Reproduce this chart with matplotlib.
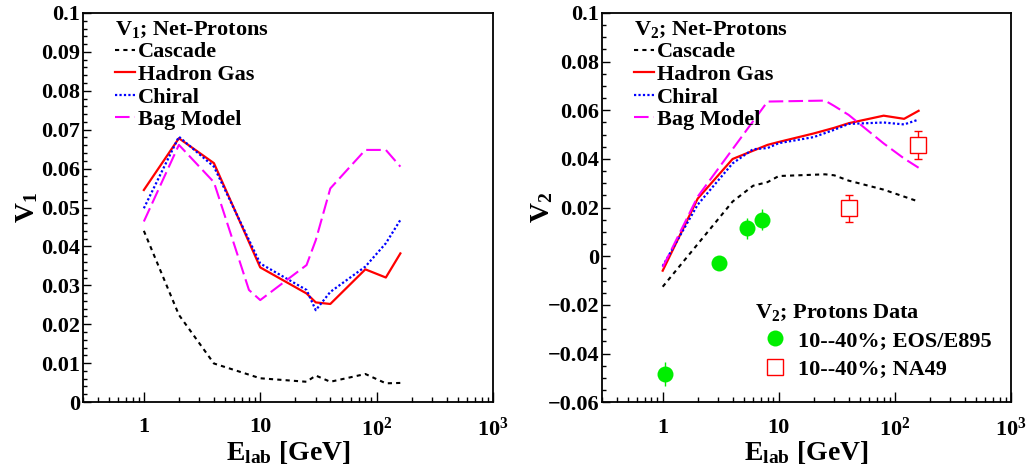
import matplotlib
matplotlib.use('Agg')
import matplotlib.pyplot as plt
from matplotlib.ticker import FixedLocator, MultipleLocator, FuncFormatter, LogLocator, NullFormatter
from matplotlib.lines import Line2D

plt.rcParams.update({
    'font.family': 'Liberation Serif',
    'font.weight': 'bold',
    'axes.labelweight': 'bold',
    'mathtext.fontset': 'custom',
    'mathtext.rm': 'Liberation Serif:bold',
    'mathtext.it': 'Liberation Serif:bold:italic',
    'mathtext.bf': 'Liberation Serif:bold',
    'mathtext.default': 'rm',
    'axes.unicode_minus': True,
})

# ---------------- data: V1 (left panel) ----------------
E_v1_casc = [1, 2, 4, 10, 25, 30, 40, 80, 120, 160]
v1_casc = [0.0440, 0.0224, 0.0099, 0.0061, 0.0052, 0.0068, 0.0052, 0.0072, 0.0048, 0.0049]
E_v1_hg = [1, 2, 4, 10, 25, 30, 40, 80, 120, 160]
v1_hg = [0.0545, 0.0678, 0.0614, 0.0346, 0.0279, 0.0256, 0.0252, 0.0341, 0.0320, 0.0382]
E_v1_chiral = [1, 2, 4, 10, 25, 30, 40, 80, 120, 160]
v1_chiral = [0.0498, 0.0682, 0.0605, 0.0356, 0.0288, 0.0236, 0.0283, 0.0348, 0.0408, 0.0468]
E_v1_bag = [1, 2, 4, 8, 10, 25, 30, 40, 80, 120, 160]
v1_bag = [0.0464, 0.0661, 0.0565, 0.0288, 0.0262, 0.0352, 0.0416, 0.0549, 0.0648, 0.0648, 0.0605]

# ---------------- data: V2 (right panel) ----------------
E_v2_casc = [1, 2, 4, 6, 8, 10, 25, 30, 40, 80, 160]
v2_casc = [-0.0125, 0.0050, 0.0225, 0.0290, 0.0305, 0.0330, 0.0337, 0.0333, 0.0311, 0.0274, 0.0225]
E_v2_hg = [1, 2, 4, 8, 10, 20, 30, 40, 80, 120, 160]
v2_hg = [-0.0059, 0.0237, 0.0400, 0.0458, 0.0470, 0.0505, 0.0528, 0.0547, 0.0578, 0.0565, 0.0598]
E_v2_chiral = [1, 2, 4, 6, 8, 10, 20, 30, 40, 80, 120, 160]
v2_chiral = [-0.0040, 0.0212, 0.0382, 0.0440, 0.0445, 0.0465, 0.0490, 0.0520, 0.0544, 0.0550, 0.0542, 0.0562]
E_v2_bag = [1, 2, 8, 25, 30, 40, 80, 120, 160]
v2_bag = [-0.0045, 0.0245, 0.0636, 0.0640, 0.0618, 0.0581, 0.0464, 0.0402, 0.0364]

E_eos = [1.05, 3.05, 5.3, 7.1]
v2_eos = [-0.0483, -0.0029, 0.0116, 0.0150]
err_eos = [0.0048, 0.0010, 0.0043, 0.0043]
E_na49 = [40, 158]
v2_na49 = [0.0198, 0.0457]
err_na49 = [0.0056, 0.0057]

x_ticks = [1, 10, 100, 1000]
x_ticklabels = ['1', '10', '10$^{2}$', '10$^{3}$']

# ---------------- styles ----------------
sty_casc = dict(color='black', lw=1.5, dashes=(2, 2))
sty_hg = dict(color='red', lw=1.6)
sty_chiral = dict(color='blue', lw=1.6, dashes=(1, 1))
sty_bag = dict(color='magenta', lw=1.5, dashes=(7, 2.5))
GREEN = '#00ee00'

fig = plt.figure(figsize=(10.31, 4.67), dpi=100)
ax1 = fig.add_axes([83/1031, 1-402/467, 410/1031, 389/467])
ax2 = fig.add_axes([602/1031, 1-402.3/467, 409/1031, 389.3/467])


def fmt_y(v, pos):
    if abs(v) < 1e-12:
        return '0'
    s = '%g' % round(v, 4)
    return s.replace('-', '\u2212')


def style_axes(ax, ymin, ymax, ymaj, ymin_step):
    ax.set_xscale('log')
    ax.set_xlim(0.3, 1000)
    ax.set_ylim(ymin, ymax)
    ax.xaxis.set_major_locator(FixedLocator(x_ticks))
    ax.set_xticklabels(x_ticklabels)
    ax.xaxis.set_minor_locator(LogLocator(base=10, subs=range(2, 10)))
    ax.xaxis.set_minor_formatter(NullFormatter())
    ax.yaxis.set_major_locator(MultipleLocator(ymaj))
    ax.yaxis.set_minor_locator(MultipleLocator(ymin_step))
    ax.yaxis.set_major_formatter(FuncFormatter(fmt_y))
    ax.tick_params(axis='both', which='both', direction='in', top=False, right=False,
                   width=1.0, labelsize=16)
    ax.tick_params(axis='x', which='major', length=7.2, pad=11)
    ax.tick_params(axis='x', which='minor', length=3.6)
    ax.tick_params(axis='y', which='major', length=5.8, pad=2)
    ax.tick_params(axis='y', which='minor', length=3.0)
    for sp in ax.spines.values():
        sp.set_linewidth(1.3)
    ax.set_xlabel('E$_{lab}$ [GeV]', fontsize=20, fontweight='bold')
    ax.xaxis.set_label_coords(0.5, -0.095)


def model_legend(ax, handles, title):
    return ax.legend(handles, ['Cascade', 'Hadron Gas', 'Chiral', 'Bag Model'],
                     title=title, title_fontsize=16, fontsize=16,
                     loc='upper left', bbox_to_anchor=(0.078, 0.985), frameon=False,
                     borderpad=0, borderaxespad=0, handlelength=0.9, handletextpad=0.15,
                     labelspacing=0.09, alignment='left')


# ---------------- left panel ----------------
style_axes(ax1, 0, 0.1, 0.01, 0.002)
l1, = ax1.plot(E_v1_casc, v1_casc, **sty_casc)
l2, = ax1.plot(E_v1_hg, v1_hg, **sty_hg)
l3, = ax1.plot(E_v1_chiral, v1_chiral, **sty_chiral)
l4, = ax1.plot(E_v1_bag, v1_bag, **sty_bag)
ax1.set_ylabel('V$_1$', fontsize=20, fontweight='bold')
ax1.yaxis.set_label_coords(-0.105, 0.5)
model_legend(ax1, [l1, l2, l3, l4], 'V$_1$; Net-Protons')

# ---------------- right panel ----------------
style_axes(ax2, -0.06, 0.1, 0.02, 0.005)
r1, = ax2.plot(E_v2_casc, v2_casc, **sty_casc)
r2, = ax2.plot(E_v2_hg, v2_hg, **sty_hg)
r3, = ax2.plot(E_v2_chiral, v2_chiral, **sty_chiral)
r4, = ax2.plot(E_v2_bag, v2_bag, **sty_bag)
ax2.errorbar(E_eos, v2_eos, yerr=err_eos, fmt='o', color=GREEN, ms=11.5, mew=0,
             ecolor=GREEN, elinewidth=1.0, capsize=3, capthick=1.0, zorder=5)
ax2.errorbar(E_na49, v2_na49, yerr=err_na49, fmt='s', mfc='white', mec='red', ms=11.5,
             mew=1.0, ecolor='red', elinewidth=1.0, capsize=3, capthick=1.0, zorder=5)
ax2.set_ylabel('V$_2$', fontsize=20, fontweight='bold')
ax2.yaxis.set_label_coords(-0.115, 0.5)
leg2a = model_legend(ax2, [r1, r2, r3, r4], 'V$_2$; Net-Protons')
ax2.add_artist(leg2a)
h_eos = Line2D([], [], marker='o', ls='none', color=GREEN, ms=11.5, mew=0)
h_na49 = Line2D([], [], marker='s', ls='none', mfc='white', mec='red', ms=11.5, mew=1.0)
ax2.legend([h_eos, h_na49], ['10--40%; EOS/E895', '10--40%; NA49'],
           title='V$_2$; Protons Data', title_fontsize=16, fontsize=16,
           loc='upper left', bbox_to_anchor=(0.374, 0.258), frameon=False,
           borderpad=0, borderaxespad=0, handlelength=1.8, handletextpad=0.14,
           labelspacing=0.35, alignment='left')

fig.savefig('out.png', dpi=100)
